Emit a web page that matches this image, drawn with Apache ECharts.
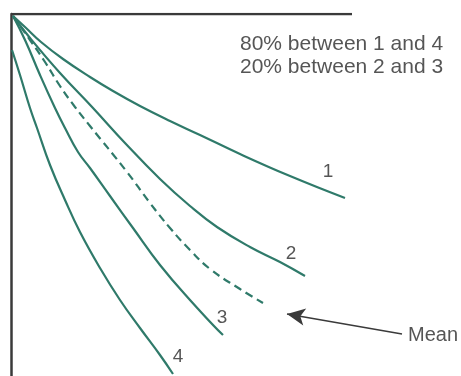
<!DOCTYPE html>
<html><head><meta charset="utf-8">
<script src="https://cdn.jsdelivr.net/npm/echarts@6/dist/echarts.min.js"></script>
<style>html,body{margin:0;padding:0;background:#fff}#c{width:461px;height:376px}</style>
</head><body><div id="c"></div>
<script>
// Curves (x to the right of the vertical axis, y below the top axis)
const curve1 = [[2,2],[14,13],[30,28],[52,45],[79,63],[102,77],[129,92],[159,107],[189,121],[229,140],[279,162],[334,184]];
const curve2 = [[2,2],[19,24],[49,59],[82,94],[114,129],[149,165],[179,192],[206,213],[239,233],[269,248],[294,262]];
const meanCurve = [[2,2],[19,26],[34,48],[49,72],[64,93],[79,112],[116,158],[139,189],[159,214],[179,236],[199,255],[229,275],[252,289]];
const curve3 = [[2,2],[14,26],[29,61],[44,94],[54,114],[67,138],[79,154],[99,182],[122,214],[149,251],[179,286],[212,321]];
const curve4 = [[1,36],[9,61],[19,94],[26,114],[39,151],[54,186],[69,218],[89,254],[109,286],[129,314],[149,341],[162,360]];
const topAxis = [[0,0],[341,0]];
const curveLabels = [['1',317,158],['2',280,240],['3',211,304],['4',167,343]];
const notes = [['80% between 1 and 4',229,30],['20% between 2 and 3',229,53]];
const meanNote = ['Mean',422,321];
const arrow = [[391,320],[276,300]];

const green = '#2f7a6a';
const textColor = '#2b2b2b';
const font = 'Liberation Sans, Arial, sans-serif';

function curve(data, dashed) {
  return {type:'line', data:data, smooth:0.45, symbol:'none', silent:true,
    lineStyle:{color:green, width:2.2, type: dashed ? [8,5] : 'solid'}};
}
function labelSeries(items, size, align) {
  return {type:'scatter', symbolSize:0, silent:true, clip:false,
    data: items.map(d => ({name:d[0], value:[d[1],d[2]]})),
    label:{show:true, position:'inside', formatter:p=>p.name, color:textColor,
      fontSize:size, fontFamily:font, align:align || 'center', verticalAlign:'middle'}};
}
const chart = echarts.init(document.getElementById('c'), null, {renderer:'canvas'});
chart.setOption({
  animation:false,
  backgroundColor:'#fff',
  grid:{left:11, top:14, right:0, bottom:0, containLabel:false},
  xAxis:{type:'value', min:0, max:450, show:false},
  yAxis:{type:'value', min:0, max:362, inverse:true,
    axisLine:{show:true, onZero:false, lineStyle:{color:'#3a3a3a', width:2.5}},
    axisTick:{show:false}, axisLabel:{show:false}, splitLine:{show:false}},
  series:[
    {type:'line', data:topAxis, symbol:'none', silent:true, lineStyle:{color:'#3a3a3a', width:2.5}},
    curve(curve1), curve(curve2), curve(meanCurve, true), curve(curve3), curve(curve4),
    {type:'line', data:[], silent:true,
      markLine:{silent:true, symbol:['none','arrow'], symbolSize:[13,18],
        lineStyle:{color:'#3a3a3a', width:1.5, type:'solid'}, label:{show:false},
        data:[[{coord:arrow[0]},{coord:arrow[1]}]]}},
    labelSeries(curveLabels, 19),
    labelSeries(notes, 21, 'left'),
    labelSeries([meanNote], 20)
  ]
});
</script></body></html>
